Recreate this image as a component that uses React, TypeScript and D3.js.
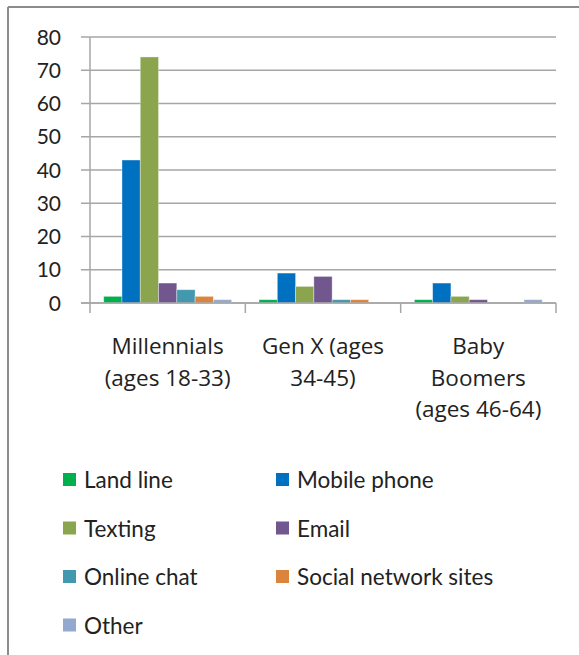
import React from "react";
import * as d3 from "d3";

const categories: string[][] = [
  ["Millennials", "(ages 18-33)"],
  ["Gen X (ages", "34-45)"],
  ["Baby", "Boomers", "(ages 46-64)"],
];
const seriesNames = [
  "Land line",
  "Mobile phone",
  "Texting",
  "Email",
  "Online chat",
  "Social network sites",
  "Other",
];
const seriesColors = [
  "#00B050",
  "#0070C0",
  "#8BA54E",
  "#72578F",
  "#4198AF",
  "#DB843D",
  "#93A9CF",
];
const landLine = [2, 1, 1];
const mobilePhone = [43, 9, 6];
const texting = [74, 5, 2];
const email = [6, 8, 1];
const onlineChat = [4, 1, 0];
const socialNetwork = [2, 1, 0];
const other = [1, 0, 1];
const yTicks = [0, 10, 20, 30, 40, 50, 60, 70, 80];

const seriesValues = [landLine, mobilePhone, texting, email, onlineChat, socialNetwork, other];

const W = 579;
const H = 655;
const plotL = 90;
const plotR = 556;
const plotT = 37;
const plotB = 303;
const FONT = "Lato, 'Open Sans', sans-serif";
const CAT_FONT = "'Open Sans', Lato, sans-serif";

export default function App() {
  const y = d3.scaleLinear().domain([0, 80]).range([plotB, plotT]);
  const x0 = d3
    .scaleBand<number>()
    .domain(categories.map((_, i) => i))
    .range([plotL, plotR]);
  const bw = x0.bandwidth() / 8.5;
  const x1 = d3
    .scaleBand<number>()
    .domain(seriesNames.map((_, i) => i))
    .range([0.75 * bw, x0.bandwidth() - 0.75 * bw]);

  const gridColor = "#a6a6a6";

  return (
    <svg
      width={W}
      height={H}
      style={{ position: "absolute", left: 0, top: 0, background: "#fff" }}
      fontFamily={FONT}
    >
      <rect x={0} y={0} width={W} height={H} fill="#fff" />
      {/* frame */}
      <line x1={8} y1={7} x2={W} y2={7} stroke="#8c8c8c" strokeWidth={2} />
      <line x1={8} y1={7} x2={8} y2={H} stroke="#8c8c8c" strokeWidth={2} />

      {/* gridlines + y labels */}
      {yTicks.map((t) => (
        <g key={t}>
          <line
            x1={plotL - 9}
            x2={plotR}
            y1={y(t)}
            y2={y(t)}
            stroke={gridColor}
            strokeWidth={1.5}
          />
          <text
            x={61}
            y={y(t)}
            dy="0.36em"
            textAnchor="end"
            fontSize={21}
            fill="#222"
          >
            {t}
          </text>
        </g>
      ))}
      {/* y axis */}
      <line x1={plotL} x2={plotL} y1={plotT} y2={plotB} stroke={gridColor} strokeWidth={1.5} />
      {/* category ticks */}
      {[0, 1, 2, 3].map((i) => {
        const xx = plotL + i * x0.step();
        return (
          <line key={i} x1={xx} x2={xx} y1={plotB} y2={plotB + 10} stroke={gridColor} strokeWidth={1.5} />
        );
      })}

      {/* bars */}
      {categories.map((_, ci) =>
        seriesValues.map((vals, si) => {
          const v = vals[ci];
          if (v <= 0) return null;
          const bx = (x0(ci) as number) + (x1(si) as number);
          return (
            <rect
              key={`${ci}-${si}`}
              x={bx}
              y={y(v)}
              width={x1.bandwidth()}
              height={plotB - y(v)}
              fill={seriesColors[si]}
              stroke="#ffffff"
              strokeOpacity={0.45}
              strokeWidth={0.8}
            />
          );
        })
      )}
      {/* baseline */}
      <line x1={plotL - 9} x2={plotR} y1={plotB} y2={plotB} stroke={gridColor} strokeWidth={1.5} />

      {/* category labels */}
      {categories.map((lines, ci) => {
        const cx = (x0(ci) as number) + x0.bandwidth() / 2;
        return (
          <text key={ci} x={cx} textAnchor="middle" fontSize={22.5} fill="#222" fontFamily={CAT_FONT}>
            {lines.map((l, li) => (
              <tspan key={li} x={cx} y={354 + li * 31.5}>
                {l}
              </tspan>
            ))}
          </text>
        );
      })}

      {/* legend */}
      {seriesNames.map((name, i) => {
        const col = i % 2;
        const row = Math.floor(i / 2);
        const lx = col === 0 ? 63 : 276;
        const ly = 480 + row * 48.5;
        return (
          <g key={name}>
            <rect x={lx} y={ly - 7} width={13} height={13} fill={seriesColors[i]} />
            <text x={lx + 21} y={ly} dy="0.36em" fontSize={22.5} fill="#222">
              {name}
            </text>
          </g>
        );
      })}
    </svg>
  );
}
